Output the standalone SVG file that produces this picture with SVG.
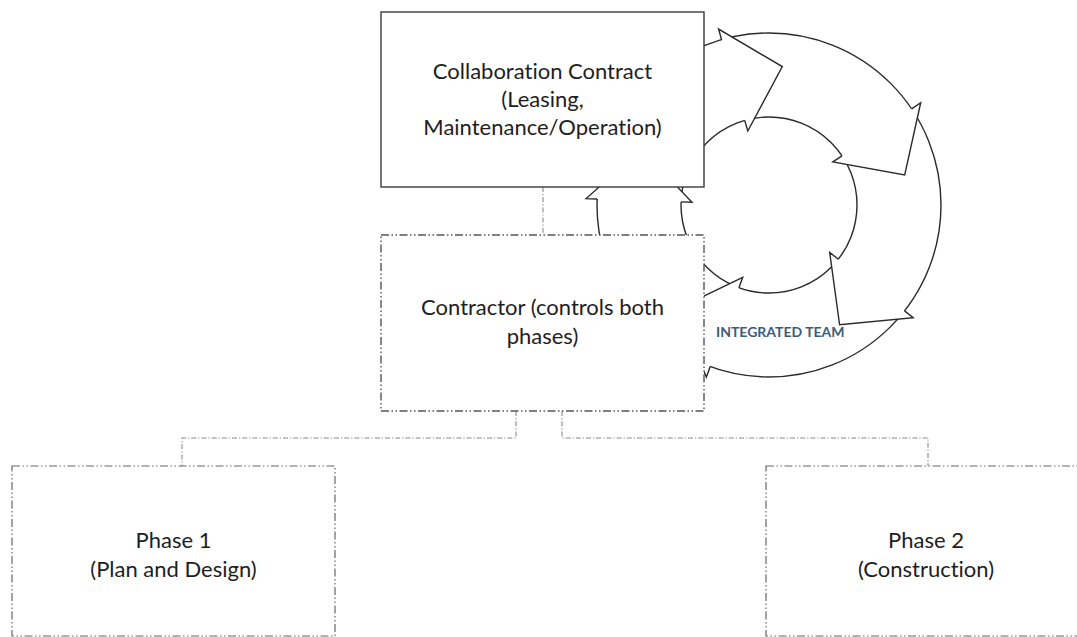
<svg xmlns="http://www.w3.org/2000/svg" width="1077" height="637" viewBox="0 0 1077 637">
<style>
.ring{fill:none;stroke:#2a2a2a;stroke-width:1.4}
.head{fill:#fff;stroke:#2a2a2a;stroke-width:1.4;stroke-linejoin:miter}
.solid{fill:#fff;stroke:#3a3a3a;stroke-width:1.4}
.dd{fill:#fff;stroke:#555;stroke-width:1.4;stroke-dasharray:8 2.5 1.5 2.5 1.5 2.5}
.ph{fill:#fff;stroke:#666;stroke-width:1.2;stroke-dasharray:8 2.5 1.5 2.5 1.5 2.5}
.con{fill:none;stroke:#8a8a8a;stroke-width:1.1;stroke-dasharray:5 2 1.2 2}
.t{font-family:Lato,"Open Sans",sans-serif;font-size:22px;fill:#1e1e1e;text-anchor:middle;font-variant-ligatures:none}
.it{font-family:Lato,"Open Sans",sans-serif;font-size:14px;font-weight:bold;fill:#3b5d7c}
</style>
<rect width="1077" height="637" fill="#fff"/>
<g id="cycle">
<circle class="ring" cx="769" cy="205" r="172"/>
<circle class="ring" cx="769" cy="205" r="88"/>
<path class="head" d="M721.6,39.7 L718.6,29.1 L782.3,66.6 L747.8,131 L744.7,120.4"/>
<path class="head" d="M911.6,108.8 L920.7,102.7 L904.7,174.9 L832.8,161.9 L842,155.8"/>
<path class="head" d="M904.5,310.9 L913.2,317.7 L839.6,324.8 L829.7,252.4 L838.3,259.2"/>
<path class="head" d="M710.2,366.6 L706.4,377 L676.9,309.1 L742.7,277.4 L738.9,287.7"/>
<path class="head" d="M597.1,199 L586.1,198.6 L641.5,149.6 L692,202.3 L681,201.9"/>
<text class="it" x="716" y="337">INTEGRATED TEAM</text>
</g>
<g id="connectors">
<path class="con" d="M543,187 V235"/>
<path class="con" d="M516,411 V438 H182 V466"/>
<path class="con" d="M562,411 V438 H928 V466"/>
</g>
<g id="collab">
<rect class="solid" x="381" y="12" width="323" height="175"/>
<text class="t" x="542.5" y="79">Collaboration Contract</text>
<text class="t" x="542.5" y="107">(Leasing,</text>
<text class="t" x="542.5" y="135">Maintenance/Operation)</text>
</g>
<g id="contractor">
<rect class="dd" x="381" y="235" width="323" height="176"/>
<text class="t" x="542.5" y="315">Contractor (controls both</text>
<text class="t" x="542.5" y="344">phases)</text>
</g>
<g id="phase1">
<rect class="ph" x="12" y="466" width="323" height="170"/>
<text class="t" x="173.5" y="548">Phase 1</text>
<text class="t" x="173.5" y="577">(Plan and Design)</text>
</g>
<g id="phase2">
<rect class="ph" x="766" y="466" width="323" height="170"/>
<text class="t" x="926" y="548">Phase 2</text>
<text class="t" x="926" y="577">(Construction)</text>
</g>
</svg>
